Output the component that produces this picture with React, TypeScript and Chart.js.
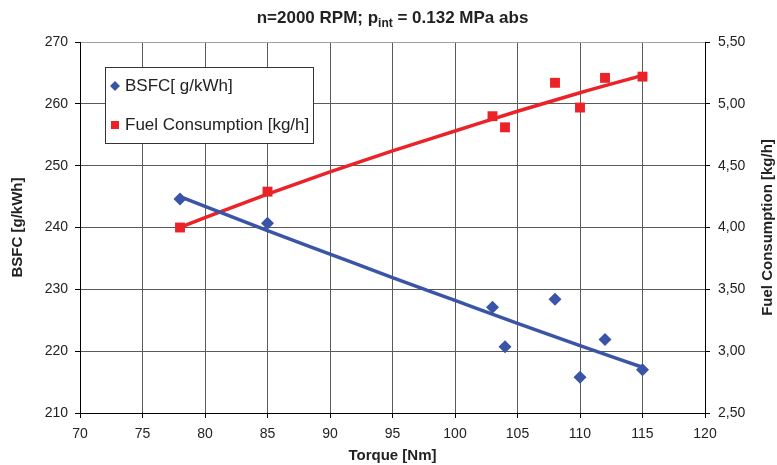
import React, { useEffect, useRef } from 'react';
import { Chart, registerables } from 'chart.js';

Chart.register(...registerables);

// Measured points
const torque = [78, 85, 103, 104, 108, 110, 112, 115];
const bsfc = [244.6, 240.7, 227.1, 220.7, 228.4, 215.8, 221.9, 217.0];
const fuel = [4.0, 4.29, 4.9, 4.81, 5.17, 4.97, 5.21, 5.22];

// Trend lines
const fitTorque = [78, 80, 85, 90, 95, 100, 105, 110, 115];
const bsfcFit = [245.0, 243.4, 239.5, 235.7, 231.9, 228.2, 224.5, 220.9, 217.4];
const fuelFit = [4.0, 4.08, 4.27, 4.45, 4.62, 4.78, 4.94, 5.09, 5.23];

// Axes
const xRange = [70, 120];
const bsfcRange = [210, 270];
const fuelRange = [2.5, 5.5];

const titleMain = 'n=2000 RPM; p';
const titleSub = 'int';
const titleRest = ' = 0.132 MPa abs';
const legendLabels = ['BSFC[ g/kWh]', 'Fuel Consumption [kg/h]'];

const BLUE = '#3a55a5';
const RED = '#eb2227';
const FONT = "'Liberation Sans', Arial, sans-serif";

const overlayPlugin = {
  id: 'overlay',
  afterDraw(chart: any) {
    const ctx = chart.ctx as CanvasRenderingContext2D;
    const { left, right, top, bottom } = chart.chartArea;
    ctx.save();
    // Title with subscript
    const big = `bold 17px ${FONT}`;
    const small = `bold 12px ${FONT}`;
    ctx.font = big;
    const w1 = ctx.measureText(titleMain).width;
    const w3 = ctx.measureText(titleRest).width;
    ctx.font = small;
    const w2 = ctx.measureText(titleSub).width;
    let x = (left + right) / 2 - (w1 + w2 + w3) / 2;
    const y = 23;
    ctx.fillStyle = '#222';
    ctx.textAlign = 'left';
    ctx.textBaseline = 'alphabetic';
    ctx.font = big;
    ctx.fillText(titleMain, x, y);
    x += w1;
    ctx.font = small;
    ctx.fillText(titleSub, x, y + 4);
    x += w2;
    ctx.font = big;
    ctx.fillText(titleRest, x, y);

    // Right axis title (reads bottom to top)
    ctx.save();
    ctx.translate(768, (top + bottom) / 2);
    ctx.rotate(-Math.PI / 2);
    ctx.font = `bold 15px ${FONT}`;
    ctx.textAlign = 'center';
    ctx.textBaseline = 'middle';
    ctx.fillText('Fuel Consumption [kg/h]', 0, 0);
    ctx.restore();

    // Legend box
    const bx = 105, by = 67, bw = 208, bh = 76;
    ctx.fillStyle = '#fff';
    ctx.fillRect(bx, by, bw, bh);
    ctx.strokeStyle = '#333';
    ctx.lineWidth = 1;
    ctx.strokeRect(bx + 0.5, by + 0.5, bw, bh);
    // diamond
    ctx.fillStyle = BLUE;
    ctx.beginPath();
    ctx.moveTo(115, 81);
    ctx.lineTo(120, 86);
    ctx.lineTo(115, 91);
    ctx.lineTo(110, 86);
    ctx.closePath();
    ctx.fill();
    // square
    ctx.fillStyle = RED;
    ctx.fillRect(111, 121, 8, 8);
    ctx.fillStyle = '#222';
    ctx.font = `17px ${FONT}`;
    ctx.textAlign = 'left';
    ctx.textBaseline = 'middle';
    ctx.fillText(legendLabels[0], 125, 86);
    ctx.fillText(legendLabels[1], 125, 125);
    ctx.restore();
  },
};

export default function App() {
  const ref = useRef<HTMLCanvasElement>(null);
  useEffect(() => {
    if (!ref.current) return;
    const chart = new Chart(ref.current, {
      type: 'scatter',
      data: {
        datasets: [
          {
            label: legendLabels[0],
            data: torque.map((t, i) => ({ x: t, y: bsfc[i] })),
            yAxisID: 'y',
            pointStyle: 'rectRot',
            pointRadius: 6.5,
            backgroundColor: BLUE,
            borderColor: BLUE,
            borderWidth: 0,
          },
          {
            label: legendLabels[1],
            data: torque.map((t, i) => ({ x: t, y: fuel[i] })),
            yAxisID: 'y1',
            pointStyle: 'rect',
            pointRadius: 7,
            backgroundColor: RED,
            borderColor: RED,
            borderWidth: 0,
          },
          {
            label: 'BSFC trend',
            data: fitTorque.map((t, i) => ({ x: t, y: bsfcFit[i] })),
            yAxisID: 'y',
            showLine: true,
            pointRadius: 0,
            borderColor: BLUE,
            borderWidth: 3.5,
            cubicInterpolationMode: 'monotone',
          },
          {
            label: 'Fuel trend',
            data: fitTorque.map((t, i) => ({ x: t, y: fuelFit[i] })),
            yAxisID: 'y1',
            showLine: true,
            pointRadius: 0,
            borderColor: RED,
            borderWidth: 3.5,
            cubicInterpolationMode: 'monotone',
          },
        ],
      },
      options: {
        animation: false,
        responsive: false,
        layout: { padding: { top: 42, left: 0, right: 0, bottom: 0 } },
        plugins: {
          legend: { display: false },
          title: { display: false },
          tooltip: { enabled: false },
        },
        scales: {
          x: {
            type: 'linear',
            min: xRange[0],
            max: xRange[1],
            afterFit: (s: any) => { s.height = 52; },
            ticks: { stepSize: 5, color: '#222', font: { family: FONT, size: 14 }, padding: 8 },
            grid: { color: '#5a5a5a', tickColor: '#000', tickLength: 5, lineWidth: 1 },
            border: { color: '#000', width: 1 },
            title: {
              display: true,
              text: 'Torque [Nm]',
              color: '#222',
              font: { family: FONT, size: 15, weight: 'bold' },
              padding: { top: 0, bottom: 0 },
            },
          },
          y: {
            type: 'linear',
            position: 'left',
            min: bsfcRange[0],
            max: bsfcRange[1],
            afterFit: (s: any) => { s.width = 80; },
            ticks: { stepSize: 10, color: '#222', font: { family: FONT, size: 14 }, padding: 7 },
            grid: {
              color: (c: any) => (c.tick && c.tick.value === bsfcRange[1] ? '#a0a0a0' : '#5a5a5a'),
              tickColor: '#000',
              tickLength: 5,
            },
            border: { color: '#000', width: 1 },
            title: {
              display: true,
              text: 'BSFC [g/kWh]',
              color: '#222',
              font: { family: FONT, size: 15, weight: 'bold' },
              padding: { top: 9, bottom: 0 },
            },
          },
          y1: {
            type: 'linear',
            position: 'right',
            min: fuelRange[0],
            max: fuelRange[1],
            afterFit: (s: any) => { s.width = 72; },
            ticks: {
              stepSize: 0.5,
              color: '#222',
              font: { family: FONT, size: 14 },
              padding: 8,
              callback: (v: any) => Number(v).toFixed(2).replace('.', ','),
            },
            grid: { drawOnChartArea: false, tickColor: '#000', tickLength: 5 },
            border: { color: '#000', width: 1 },
          },
        },
      },
      plugins: [overlayPlugin],
    } as any);
    return () => chart.destroy();
  }, []);
  return (
    <div style={{ position: 'fixed', left: 0, top: 0, width: 777, height: 465, background: '#fff' }}>
      <canvas ref={ref} width={777} height={465} style={{ display: 'block' }} />
    </div>
  );
}
